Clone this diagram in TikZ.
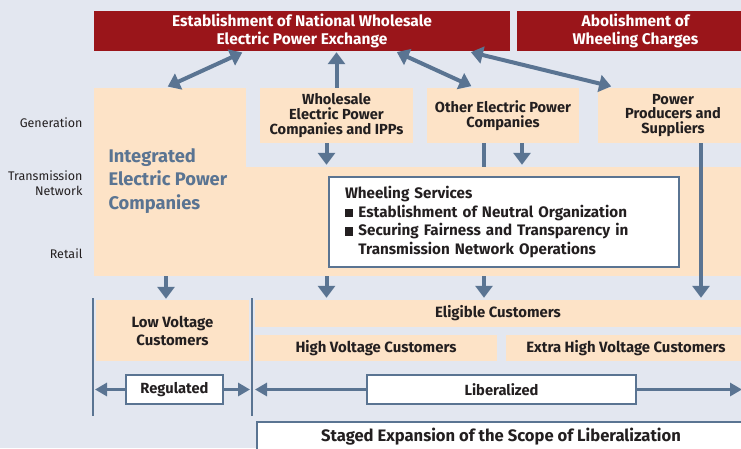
\documentclass[tikz,border=0pt]{standalone}
\usepackage{fontspec}
\setmainfont{Fira Sans}
\usetikzlibrary{arrows.meta, positioning}
\definecolor{bgblue}{RGB}{227,231,240}
\definecolor{exred}{RGB}{154,21,26}
\definecolor{peach}{RGB}{253,227,199}
\definecolor{flowblue}{RGB}{90,116,146}
\definecolor{ink}{RGB}{35,31,32}
\tikzstyle{every node}=[font=\fontsize{12}{14}\selectfont, text=ink]
\tikzstyle{redbox}=[fill=exred, text=white, align=center, inner sep=0pt, font=\bfseries\fontsize{15.5}{18}\selectfont]
\tikzstyle{block}=[fill=peach, align=center, inner sep=0pt, font=\bfseries\fontsize{14.6}{14.6}\selectfont]
\tikzstyle{tag}=[draw=flowblue, line width=1.5pt, fill=white, inner sep=0pt, font=\bfseries\fontsize{14.7}{16}\selectfont]
\tikzstyle{layer}=[anchor=east, align=right, font=\fontsize{12.5}{15}\selectfont]
\tikzstyle{flow}=[draw=flowblue, line width=4pt, -{Triangle[width=17pt,length=12pt]}]
\tikzstyle{twoway}=[draw=flowblue, line width=4pt, {Triangle[width=17pt,length=12pt]}-{Triangle[width=17pt,length=12pt]}]
\tikzstyle{span}=[draw=flowblue, line width=3pt, -{Triangle[width=13pt,length=12pt]}]
\tikzstyle{fence}=[draw=flowblue, line width=2pt]
\newcommand{\bulletsq}{\rule{0.55em}{0.55em}}

\begin{document}
\begin{tikzpicture}[x=1pt, y=-1pt]
  \fill[bgblue] (0,0) rectangle (741,448);
  \useasboundingbox (0,0) rectangle (741,448);
  % reforms
  \node[redbox, minimum width=416pt, minimum height=40pt] (exchange) at (302,31) {Establishment of National Wholesale\\Electric Power Exchange};
  \node[redbox, minimum width=237pt, minimum height=40pt] (charges) at (635.5,31) {Abolishment of\\Wheeling Charges};
  % integrated companies
  \node[block, minimum width=152pt, minimum height=80pt] (intgen) at (170,128) {};
  \node[block, minimum width=660pt, minimum height=109pt] (intband) at (424,221.5) {};
  \node[anchor=west, align=left, text=flowblue, font=\bfseries\fontsize{18.3}{23.5}\selectfont] (inttext) at (105,181) {Integrated\\Electric Power\\Companies};
  % layers
  \node[layer] (generation) at (86,123) {Generation};
  \node[layer] (transmission) at (86,183) {Transmission\\Network};
  \node[layer] (retail) at (86,254) {Retail};
  % other suppliers
  \node[block, minimum width=153pt, minimum height=55pt] (wholesale) at (336.5,115.5) {Wholesale\\Electric Power\\Companies and IPPs};
  \node[block, minimum width=152pt, minimum height=55pt] (others) at (503,115.5) {Other Electric Power\\Companies};
  \node[block, minimum width=150pt, minimum height=55pt] (producers) at (673,115.5) {Power\\Producers and\\Suppliers};
  \node[tag, inner xsep=16pt, text width=318pt, minimum height=90pt, align=left, font=\bfseries\fontsize{15.2}{18.5}\selectfont] (wheeling) at (504,222) {Wheeling Services\\
    \bulletsq\ Establishment of Neutral Organization\\
    \bulletsq\ Securing Fairness and Transparency in\\
    \hphantom{\bulletsq\ }Transmission Network Operations};
  % customers
  \node[block, minimum width=153pt, minimum height=61pt, font=\bfseries\fontsize{14.9}{18}\selectfont] (low) at (172.5,330.5) {Low Voltage\\Customers};
  \node[block, minimum width=486pt, minimum height=27pt, font=\bfseries\fontsize{14.9}{16}\selectfont] (eligible) at (498,313.5) {Eligible Customers};
  \node[block, minimum width=242pt, minimum height=26pt, font=\bfseries\fontsize{14.9}{16}\selectfont] (high) at (376,348) {High Voltage Customers};
  \node[block, minimum width=240pt, minimum height=26pt, font=\bfseries\fontsize{14.9}{16}\selectfont] (extra) at (626,348) {Extra High Voltage Customers};
  \node[tag, minimum width=97pt, minimum height=29pt] (regulated) at (174.5,389.5) {Regulated};
  \node[tag, minimum width=269pt, minimum height=29pt] (liberalized) at (501.5,389.5) {Liberalized};
  \node[tag, minimum width=488pt, minimum height=30pt, font=\bfseries\fontsize{16.6}{18}\selectfont] (staged) at (501,437) {Staged Expansion of the Scope of Liberalization};

  % trading
  \draw[twoway, shorten <=3pt, shorten >=3pt] ([xshift=-5pt]intgen.north) -- ([xshift=-57pt]exchange.south);
  \draw[flow, shorten >=1pt] (wholesale.north) -- (wholesale.north |- exchange.south);
  \draw[twoway, shorten <=2pt, shorten >=4pt] ([xshift=93pt]exchange.south) -- ([xshift=-28pt]others.north);
  \draw[twoway, shorten <=4pt, shorten >=6pt] ([xshift=165pt]exchange.south) -- ([xshift=-56pt]producers.north);
  % supply
  \draw[flow, shorten >=2pt] ([xshift=-10pt]wholesale.south) -- ([xshift=-10pt]wholesale.south |- intband.north);
  \draw[fence, line width=4pt] ([xshift=-19pt]others.south) -- ([xshift=-19pt]others.south |- intband.north);
  \draw[flow, shorten >=2pt] ([xshift=19pt]others.south) -- ([xshift=19pt]others.south |- intband.north);
  \draw[flow, shorten >=2pt] ([xshift=28pt]producers.south) -- ([xshift=28pt]producers.south |- eligible.north);
  \draw[flow, shorten >=1pt] ([xshift=-6.5pt]low.north |- intband.south) -- ([xshift=-6.5pt]low.north);
  \draw[flow, shorten >=2pt] ([xshift=-10pt]wholesale.south |- intband.south) -- ([xshift=-10pt]wholesale.south |- eligible.north);
  \draw[flow, shorten >=2pt] ([xshift=-19pt]others.south |- intband.south) -- ([xshift=-19pt]others.south |- eligible.north);
  % scope
  \coordinate (fenceAtop) at (93,298);
  \coordinate (fenceAbot) at (93,416);
  \coordinate (fenceBtop) at (252,298);
  \coordinate (fenceBbot) at (252,416);
  \draw[fence] (fenceAtop) -- (fenceAbot);
  \draw[fence] (fenceBtop) -- (fenceBbot);
  \coordinate (regL) at (95,389.5);
  \coordinate (regR) at (250,389.5);
  \coordinate (libL) at (255,389.5);
  \coordinate (libR) at (742,389.5);
  \draw[span] (regulated.west) -- (regL);
  \draw[span] (regulated.east) -- (regR);
  \draw[span] (liberalized.west) -- (libL);
  \draw[span] (liberalized.east) -- (libR);
\end{tikzpicture}
\end{document}
